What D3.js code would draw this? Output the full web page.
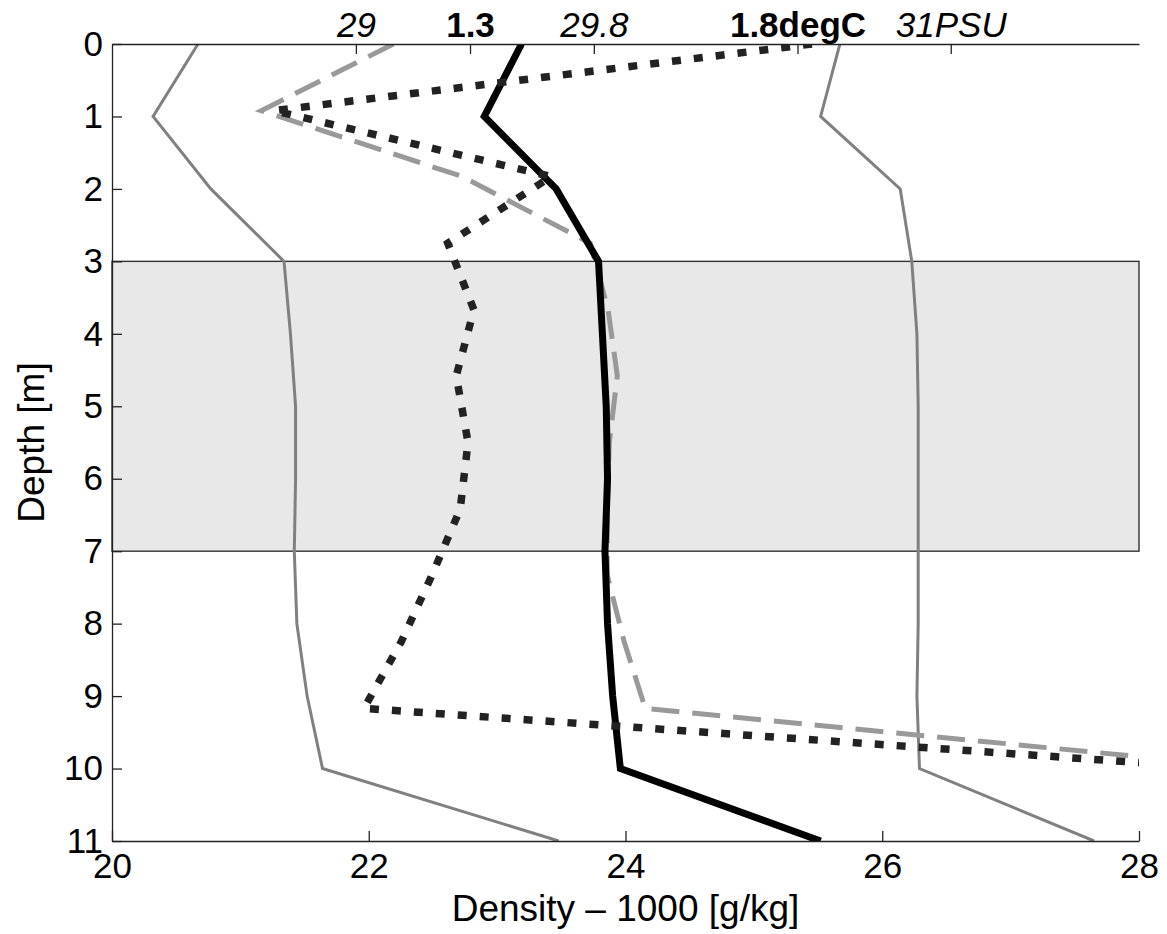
<!DOCTYPE html>
<html>
<head>
<meta charset="utf-8">
<script src="https://cdn.jsdelivr.net/npm/d3@7"></script>
<style>
  body { margin: 0; background: #fff; }
  svg text { font-family: "Liberation Sans", Arial, sans-serif; fill: #000; }
</style>
</head>
<body>
<script>
// Depths of the density profiles (m)
const depths = [0, 1, 2, 3, 4, 5, 6, 7, 8, 9, 10, 11];
// Depths of the temperature / salinity profile (m)
const tsDepths = [0, 0.92, 1.83, 2.75, 3.67, 4.58, 5.5, 6.42, 7.33, 8.25, 9.17, 10.08];

// Density - 1000 (g/kg)
const densityMain = [23.19, 22.90, 23.46, 23.79, 23.82, 23.85, 23.86, 23.84, 23.86, 23.90, 23.96, 25.52];
const densityLow = [20.67, 20.32, 20.77, 21.34, 21.39, 21.43, 21.43, 21.42, 21.44, 21.52, 21.64, 23.48];
const densityHigh = [25.67, 25.52, 26.14, 26.23, 26.27, 26.28, 26.28, 26.28, 26.28, 26.27, 26.29, 27.65];

// Temperature (degC) and salinity (PSU)
const temperature = [1.822, 1.001, 1.424, 1.266, 1.306, 1.279, 1.297, 1.285, 1.242, 1.195, 1.138, 2.579];
const salinity = [29.126, 28.682, 29.358, 29.788, 29.848, 29.879, 29.852, 29.845, 29.845, 29.902, 29.973, 32.242];

// Axis ticks
const densityTicks = [20, 22, 24, 26, 28];
const depthTicks = [0, 1, 2, 3, 4, 5, 6, 7, 8, 9, 10, 11];
const salTicks = [29, 29.8, 31];
const salLabels = ["29", "29.8", "31PSU"];
const tempTicks = [1.3, 1.8];
const tempLabels = ["1.3", "1.8degC"];

// Shaded layer (m)
const band = [3, 7];

const width = 1167, height = 934;
const box = { left: 112, right: 1139, top: 44, bottom: 841 };

const svg = d3.select("body").append("svg")
  .attr("width", width)
  .attr("height", height);

const x = d3.scaleLinear().domain([20, 28]).range([box.left, box.right]);
const y = d3.scaleLinear().domain([0, 11]).range([box.top, box.bottom]);
const xSal = d3.scaleLinear().domain([28.18, 31.633]).range([box.left, box.right]);
const xTemp = d3.scaleLinear().domain([0.7534, 2.3214]).range([box.left, box.right]);

svg.append("defs").append("clipPath")
  .attr("id", "plot-clip")
  .append("rect")
    .attr("x", box.left).attr("y", box.top)
    .attr("width", box.right - box.left).attr("height", box.bottom - box.top);

// Shaded band
svg.append("rect")
  .attr("x", box.left)
  .attr("y", y(band[0]))
  .attr("width", box.right - box.left)
  .attr("height", y(band[1]) - y(band[0]))
  .attr("fill", "#e8e8e8")
  .attr("stroke", "#333")
  .attr("stroke-width", 1.4);

const lines = svg.append("g").attr("clip-path", "url(#plot-clip)");

const series = [
  { vals: densityLow, xs: x, ds: depths, color: "#808080", w: 3, dash: null },
  { vals: densityHigh, xs: x, ds: depths, color: "#808080", w: 3, dash: null },
  { vals: salinity, xs: xSal, ds: tsDepths, color: "#999", w: 5, dash: "28,13" },
  { vals: densityMain, xs: x, ds: depths, color: "#000", w: 7, dash: null },
  { vals: temperature, xs: xTemp, ds: tsDepths, color: "#222", w: 7.5, dash: "9,13" },
];

series.forEach(s => {
  lines.append("path")
    .datum(s.ds)
    .attr("fill", "none")
    .attr("stroke", s.color)
    .attr("stroke-width", s.w)
    .attr("stroke-linejoin", "miter")
    .attr("stroke-dasharray", s.dash)
    .attr("d", d3.line()
      .x((d, i) => s.xs(s.vals[i]))
      .y(d => y(d)));
});

// Bottom axis
const gx = svg.append("g")
  .attr("transform", `translate(0,${box.bottom})`)
  .call(d3.axisBottom(x).tickValues(densityTicks).tickSize(-10).tickSizeOuter(0).tickPadding(12));

// Left axis
const gy = svg.append("g")
  .attr("transform", `translate(${box.left},0)`)
  .call(d3.axisLeft(y).tickValues(depthTicks).tickSize(-10).tickSizeOuter(0).tickPadding(9));

// Top axes (salinity italic, temperature bold)
const gs = svg.append("g")
  .attr("transform", `translate(0,${box.top})`)
  .call(d3.axisTop(xSal).tickValues(salTicks).tickSize(-10).tickSizeOuter(0).tickPadding(7)
    .tickFormat((d, i) => salLabels[i]));
gs.selectAll("text").attr("font-style", "italic");

const gt = svg.append("g")
  .attr("transform", `translate(0,${box.top})`)
  .call(d3.axisTop(xTemp).tickValues(tempTicks).tickSize(-10).tickSizeOuter(0).tickPadding(7)
    .tickFormat((d, i) => tempLabels[i]));
gt.select(".domain").remove();
gt.selectAll("text").attr("font-weight", "bold");

[gx, gy, gs, gt].forEach(g => {
  g.attr("font-family", null).attr("font-size", null);
  g.selectAll(".domain, .tick line").attr("stroke", "#222").attr("stroke-width", 1.3);
  g.selectAll("text").attr("font-size", 35);
});

// Axis titles
svg.append("text")
  .attr("x", (box.left + box.right) / 2)
  .attr("y", 921)
  .attr("text-anchor", "middle")
  .attr("font-size", 37)
  .text("Density – 1000 [g/kg]");

svg.append("text")
  .attr("transform", `translate(44,${(box.top + box.bottom) / 2}) rotate(-90)`)
  .attr("text-anchor", "middle")
  .attr("font-size", 37)
  .text("Depth [m]");
</script>
</body>
</html>
